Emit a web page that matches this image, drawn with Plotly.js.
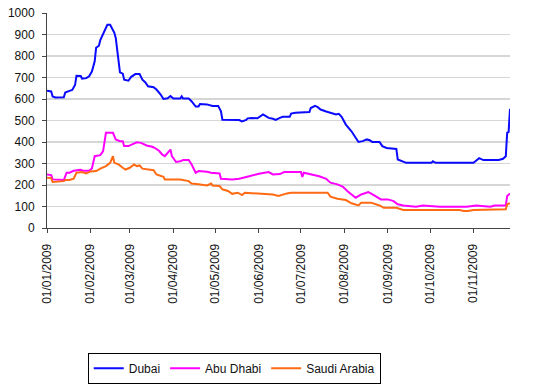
<!DOCTYPE html>
<html>
<head>
<meta charset="utf-8">
<script src="https://cdn.plot.ly/plotly-3.0.1.min.js"></script>
<style>html,body{margin:0;padding:0;background:#fff;}#chart{width:537px;height:389px;}</style>
</head>
<body>
<div id="chart"></div>
<script>
// Dubai CDS (bp)
var dubaiDates = ["2009-01-01","2009-01-04","2009-01-05","2009-01-07","2009-01-13","2009-01-14","2009-01-17","2009-01-19","2009-01-21","2009-01-22","2009-01-25","2009-01-26","2009-01-29","2009-01-31",
"2009-02-02","2009-02-04","2009-02-05","2009-02-07","2009-02-08","2009-02-10","2009-02-11","2009-02-13","2009-02-15","2009-02-16","2009-02-18","2009-02-19","2009-02-20","2009-02-21","2009-02-22","2009-02-24","2009-02-25","2009-02-28",
"2009-03-02","2009-03-05","2009-03-08","2009-03-10","2009-03-12","2009-03-14","2009-03-18","2009-03-20","2009-03-23","2009-03-25","2009-03-28","2009-03-30",
"2009-04-01","2009-04-06","2009-04-07","2009-04-08","2009-04-12","2009-04-14","2009-04-16","2009-04-17","2009-04-19","2009-04-20","2009-04-25","2009-04-27","2009-04-29",
"2009-05-03","2009-05-05","2009-05-06","2009-05-13","2009-05-18","2009-05-20","2009-05-23","2009-05-24","2009-05-27","2009-05-31",
"2009-06-01","2009-06-04","2009-06-06","2009-06-08","2009-06-11","2009-06-13","2009-06-16","2009-06-18","2009-06-23","2009-06-24","2009-06-27",
"2009-07-07","2009-07-08","2009-07-11","2009-07-13","2009-07-15","2009-07-19","2009-07-22","2009-07-26","2009-07-28","2009-07-30",
"2009-08-02","2009-08-06","2009-08-09","2009-08-11","2009-08-14","2009-08-17","2009-08-19","2009-08-21","2009-08-26","2009-08-28","2009-08-31",
"2009-09-07","2009-09-08","2009-09-11","2009-09-14","2009-10-02","2009-10-03","2009-10-05",
"2009-11-01","2009-11-03","2009-11-05","2009-11-08","2009-11-19","2009-11-22","2009-11-24","2009-11-25","2009-11-26","2009-11-27"];
var dubaiValues = [638,635,612,607,608,630,638,642,665,708,707,695,697,706,
728,775,838,848,874,900,915,945,945,930,908,884,830,768,724,718,690,685,
703,716,716,690,678,659,655,644,621,600,603,614,
602,602,612,602,602,590,576,565,565,577,575,572,568,
568,543,503,503,502,496,503,510,512,510,
515,528,520,512,508,503,512,517,517,532,536,
539,558,568,562,551,542,536,528,531,517,
481,450,420,400,404,412,408,400,400,381,372,
368,319,310,303,303,310,303,
303,314,325,316,316,322,334,443,446,554];

// Abu Dhabi CDS (bp)
var abuDhabiDates = ["2009-01-01","2009-01-04","2009-01-05","2009-01-13","2009-01-15","2009-01-17","2009-01-20","2009-01-25","2009-01-27","2009-01-31",
"2009-02-02","2009-02-04","2009-02-08","2009-02-10","2009-02-12","2009-02-17","2009-02-19","2009-02-22","2009-02-24","2009-02-25","2009-02-28",
"2009-03-04","2009-03-06","2009-03-09","2009-03-11","2009-03-13","2009-03-17","2009-03-19","2009-03-22","2009-03-24","2009-03-26","2009-03-28","2009-03-30","2009-03-31",
"2009-04-03","2009-04-06","2009-04-08","2009-04-12","2009-04-14","2009-04-17","2009-04-19","2009-04-25","2009-04-28",
"2009-05-04","2009-05-05","2009-05-13","2009-05-18","2009-05-23","2009-05-27",
"2009-06-01","2009-06-08","2009-06-11","2009-06-16","2009-06-19",
"2009-07-01","2009-07-02","2009-07-03","2009-07-09","2009-07-14","2009-07-19","2009-07-22","2009-07-27","2009-07-31",
"2009-08-03","2009-08-07","2009-08-09","2009-08-13","2009-08-18","2009-08-21","2009-08-24","2009-08-27",
"2009-09-01","2009-09-05","2009-09-08","2009-09-12","2009-09-21","2009-09-26","2009-10-08","2009-10-27",
"2009-11-03","2009-11-13","2009-11-16","2009-11-24","2009-11-25","2009-11-27"];
var abuDhabiValues = [249,246,226,223,257,257,266,271,266,266,
277,334,339,358,443,443,412,404,404,381,381,
393,399,396,389,384,378,372,358,342,334,350,365,334,
307,310,316,316,296,257,265,262,257,
254,229,226,229,237,245,
252,260,249,251,260,
260,237,257,249,241,229,211,203,192,
172,149,141,156,167,156,144,133,
133,125,110,105,99,105,99,99,
105,99,105,105,149,161];

// Saudi Arabia CDS (bp)
var saudiDates = ["2009-01-01","2009-01-04","2009-01-05","2009-01-13","2009-01-14","2009-01-17","2009-01-20","2009-01-22","2009-01-26","2009-01-29",
"2009-02-01","2009-02-05","2009-02-08","2009-02-12","2009-02-15","2009-02-17","2009-02-18","2009-02-21","2009-02-24","2009-02-26",
"2009-03-01","2009-03-04","2009-03-06","2009-03-08","2009-03-10","2009-03-16","2009-03-18","2009-03-20","2009-03-23","2009-03-25","2009-03-26",
"2009-04-06","2009-04-12","2009-04-14","2009-04-19","2009-04-25","2009-04-28","2009-04-29",
"2009-05-04","2009-05-06","2009-05-10","2009-05-13","2009-05-17","2009-05-20","2009-05-22","2009-05-28",
"2009-06-01","2009-06-11","2009-06-15","2009-06-18","2009-06-21","2009-06-24",
"2009-07-20","2009-07-22","2009-07-27",
"2009-08-02","2009-08-06","2009-08-11","2009-08-13","2009-08-20","2009-08-26","2009-08-29",
"2009-09-07","2009-09-12","2009-10-22","2009-10-25","2009-10-28",
"2009-11-01","2009-11-24","2009-11-25","2009-11-27"];
var saudiValues = [234,232,214,218,223,223,229,257,260,254,
263,265,276,288,303,334,303,296,280,272,
280,296,288,291,276,272,269,249,241,238,226,
226,218,207,203,198,207,198,
195,180,172,159,164,153,164,161,
158,156,149,156,161,164,
164,146,136,
130,115,105,118,118,105,94,
94,84,84,79,79,
84,87,110,115];

var seriesNames = ["Dubai", "Abu Dhabi", "Saudi Arabia"];
var tickDates = ["2009-01-01","2009-02-01","2009-03-01","2009-04-01","2009-05-01","2009-06-01","2009-07-01","2009-08-01","2009-09-01","2009-10-01","2009-11-01"];
var tickLabels = ["01/01/2009","01/02/2009","01/03/2009","01/04/2009","01/05/2009","01/06/2009","01/07/2009","01/08/2009","01/09/2009","01/10/2009","01/11/2009"];
var yTicks = [0,100,200,300,400,500,600,700,800,900,1000];

var FONT = "Arial, 'Liberation Sans', sans-serif";
var traces = [
  {x: dubaiDates, y: dubaiValues, name: seriesNames[0], type: "scatter", mode: "lines", line: {color: "#0a0aff", width: 2}},
  {x: abuDhabiDates, y: abuDhabiValues, name: seriesNames[1], type: "scatter", mode: "lines", line: {color: "#ff00ff", width: 2}},
  {x: saudiDates, y: saudiValues, name: seriesNames[2], type: "scatter", mode: "lines", line: {color: "#ff6a13", width: 2}}
];

var layout = {
  width: 537, height: 389,
  margin: {l: 47, r: 27, t: 13, b: 160.5, pad: 0, autoexpand: false},
  paper_bgcolor: "#ffffff", plot_bgcolor: "#ffffff",
  font: {family: FONT, size: 12, color: "#111"},
  showlegend: true,
  legend: {
    orientation: "h", x: 0.088, xanchor: "left", y: -0.58, yanchor: "top",
    bordercolor: "#000", borderwidth: 1, bgcolor: "#fff",
    font: {family: FONT, size: 12, color: "#111"},
    itemwidth: 30, tracegroupgap: 0
  },
  xaxis: {
    type: "date",
    range: ["2009-01-01", "2009-11-27"],
    tickmode: "array", tickvals: tickDates, ticktext: tickLabels,
    tickangle: -90,
    ticks: "outside", ticklen: 4, tickcolor: "#444", tickwidth: 1,
    ticklabelstandoff: 6,
    showline: true, linecolor: "#444", linewidth: 1,
    showgrid: false, zeroline: false, automargin: false,
    tickfont: {family: FONT, size: 12, color: "#111"},
    fixedrange: true
  },
  yaxis: {
    range: [0, 1000],
    tickmode: "array", tickvals: yTicks,
    ticks: "outside", ticklen: 4, tickcolor: "#444", tickwidth: 1,
    ticklabelstandoff: 5,
    showline: true, linecolor: "#444", linewidth: 1,
    showgrid: true, gridcolor: "#d6d6d6", gridwidth: 1.5,
    zeroline: false, automargin: false,
    tickfont: {family: FONT, size: 12, color: "#111"},
    fixedrange: true
  }
};

Plotly.newPlot("chart", traces, layout, {displayModeBar: false, staticPlot: true});
</script>
</body>
</html>
